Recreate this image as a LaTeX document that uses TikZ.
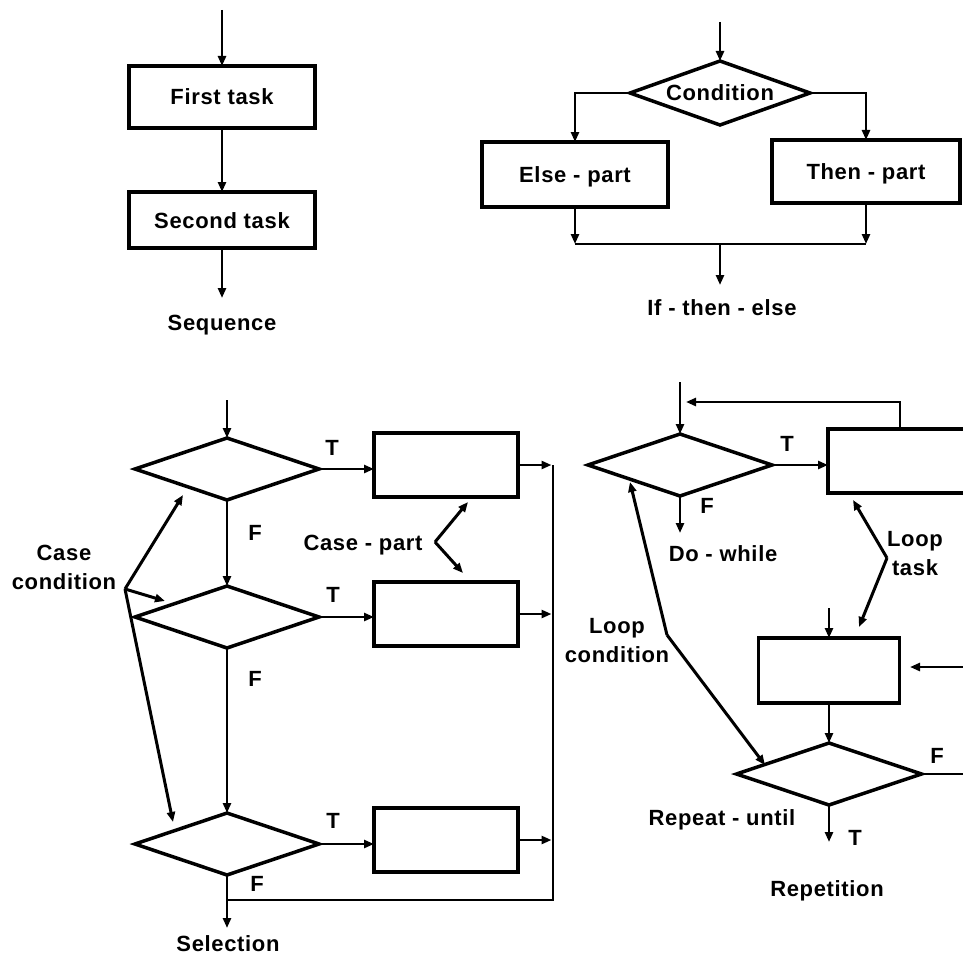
\documentclass[tikz,border=0pt]{standalone}
\usepackage{fontspec}
\setmainfont{Liberation Sans}[LetterSpace=3]
\usetikzlibrary{arrows.meta,shapes.geometric}
\begin{document}
\begin{tikzpicture}[x=1pt,y=-1pt,
  font=\fontsize{22}{29}\selectfont\bfseries,
  taskbox/.style={draw,line width=3.5pt,inner sep=0pt,outer sep=0pt,
    text height=16pt,text depth=0pt},
  decision/.style={diamond,aspect=3,draw,line width=3.5pt,inner sep=0pt,outer sep=0pt},
  flow/.style={line width=2.5pt,-{Triangle[length=10pt,width=8pt]}},
  wire/.style={line width=2.5pt},
  pointer/.style={line width=3pt,-{Triangle[length=10pt,width=8pt]}},
  lbl/.style={inner sep=0pt,text height=16pt,text depth=0pt},
  note/.style={inner sep=0pt,align=center}]
\clip (0,0) rectangle (963,955);
\fill[white] (0,0) rectangle (963,955);

% ---------- Sequence ----------
\coordinate (seqin) at (222,10);
\node[taskbox,minimum width=186pt,minimum height=62pt] (first) at (222,97) {First task};
\node[taskbox,minimum width=186pt,minimum height=56pt] (second) at (222,220) {Second task};
\coordinate (seqout) at (222,298);
\node[lbl] (seqlbl) at (222,322) {Sequence};
\draw[flow] (seqin) -- (first);
\draw[flow] (first) -- (second);
\draw[flow] (second) -- (seqout);

% ---------- If - then - else ----------
\coordinate (ifin) at (720,22);
\node[decision,minimum width=180pt,minimum height=64pt] (cond) at (720,93) {Condition};
\node[taskbox,minimum width=186pt,minimum height=65pt] (else) at (575,174.5) {Else - part};
\node[taskbox,minimum width=188pt,minimum height=63pt] (then) at (866,171.5) {Then - part};
\coordinate (joinl) at (575,244);
\coordinate (joinr) at (866,244);
\coordinate (joinm) at (720,244);
\coordinate (ifout) at (720,285);
\node[lbl] (iflbl) at (722,307) {If - then - else};
\draw[flow] (ifin) -- (cond);
\draw[flow] (cond.west) -| (else.north);
\draw[flow] (cond.east) -| (then.north);
\draw[flow] (else.south) -- (joinl);
\draw[flow] (then.south) -- (joinr);
\draw[wire] (joinl) -- (joinr);
\draw[flow] (joinm) -- (ifout);

% ---------- Selection ----------
\coordinate (selin) at (227,400);
\node[decision,minimum width=184pt,minimum height=62pt] (ca) at (227,469) {};
\node[decision,minimum width=184pt,minimum height=62pt] (cb) at (227,617) {};
\node[decision,minimum width=184pt,minimum height=62pt] (cc) at (227,844) {};
\node[taskbox,minimum width=144pt,minimum height=64pt] (pa) at (446,465) {};
\node[taskbox,minimum width=144pt,minimum height=64pt] (pb) at (446,614) {};
\node[taskbox,minimum width=144pt,minimum height=64pt] (pc) at (446,840) {};
\coordinate (busa) at (553,465);
\coordinate (busb) at (553,614);
\coordinate (busc) at (553,840);
\coordinate (busend) at (553,900);
\coordinate (busjoin) at (227,900);
\coordinate (selout) at (227,928);
\draw[flow] (selin) -- (ca);
\draw[flow] (ca.east) -- (ca.east -| pa.west);
\draw[flow] (cb.east) -- (cb.east -| pb.west);
\draw[flow] (cc.east) -- (cc.east -| pc.west);
\draw[flow] (ca) -- (cb);
\draw[flow] (cb) -- (cc);
\draw[flow] (pa.east) -- ([xshift=-1.5pt]busa);
\draw[flow] (pb.east) -- ([xshift=-1.5pt]busb);
\draw[flow] (pc.east) -- ([xshift=-1.5pt]busc);
\draw[wire,line join=miter] (busa) -- (busend) -- (busjoin);
\draw[flow] (cc.south) -- (selout);
\node[lbl] at (332,447) {T};
\node[lbl] at (333,594) {T};
\node[lbl] at (333,820) {T};
\node[lbl] at (255,532) {F};
\node[lbl] at (255,678) {F};
\node[lbl] at (257,883) {F};
\node[lbl] (sellbl) at (228,943) {Selection};

% case-part pointers
\node[lbl] (caselbl) at (363,542) {Case - part};
\coordinate (cpv) at (435,542);
\coordinate (cpup) at (468,502);
\coordinate (cpdn) at (463,573);
\draw[pointer] (cpv) -- (cpup);
\draw[pointer] (cpv) -- (cpdn);

% case-condition pointers
\node[note] (condlbl) at (64,567) {Case\\condition};
\coordinate (ccv) at (125,589);
\coordinate (ccto1) at (183,495);
\coordinate (ccto2) at (165,601);
\coordinate (ccto3) at (173,822);
\draw[pointer] (ccv) -- (ccto1);
\draw[pointer] (ccv) -- (ccto2);
\draw[pointer] (ccv) -- (ccto3);

% ---------- Repetition ----------
\coordinate (dwin) at (680,382);
\node[decision,minimum width=184pt,minimum height=62pt] (dw) at (680,465) {};
\node[taskbox,minimum width=170pt,minimum height=64pt] (body) at (913,461) {};
\coordinate (fbtop) at (900,402);
\coordinate (fbend) at (686,402);
\coordinate (dwout) at (680,533);
\draw[flow] (dwin) -- (dw);
\draw[flow] (dw.east) -- (dw.east -| body.west);
\draw[flow,line join=miter] (body.north -| fbtop) -- (fbtop) -- (fbend);
\draw[flow] (dw.south) -- (dwout);
\node[lbl] at (787,443) {T};
\node[lbl] at (707,505) {F};
\node[lbl] (dwlbl) at (723,553) {Do - while};

\node[taskbox,minimum width=141pt,minimum height=65pt] (ru) at (829,670.5) {};
\coordinate (ruin) at (829,608);
\coordinate (rufrom) at (975,667);
\coordinate (ruto) at (910,667);
\node[decision,minimum width=185pt,minimum height=62pt] (until) at (829,774) {};
\coordinate (untilF) at (975,774);
\coordinate (untilout) at (829,842);
\draw[flow] (ruin) -- (ru);
\draw[flow] (rufrom) -- (ruto);
\draw[flow] (ru) -- (until);
\draw[wire] (until.east) -- (untilF);
\draw[flow] (until.south) -- (untilout);
\node[lbl] at (937,755) {F};
\node[lbl] at (855,837) {T};
\node[lbl] (rulbl) at (722,817) {Repeat - until};
\node[lbl] (replbl) at (827,888) {Repetition};

% loop-task pointers
\node[note] (looptask) at (915,554) {Loop\\task};
\coordinate (ltv) at (887,558);
\coordinate (ltup) at (853,500);
\coordinate (ltdn) at (859,627);
\draw[pointer] (ltv) -- (ltup);
\draw[pointer] (ltv) -- (ltdn);

% loop-condition pointers
\node[note] (loopcond) at (617,641) {Loop\\condition};
\coordinate (lcv) at (667,635);
\coordinate (lcup) at (630,482);
\coordinate (lcdn) at (765,765);
\draw[pointer] (lcv) -- (lcup);
\draw[pointer] (lcv) -- (lcdn);
\end{tikzpicture}
\end{document}
